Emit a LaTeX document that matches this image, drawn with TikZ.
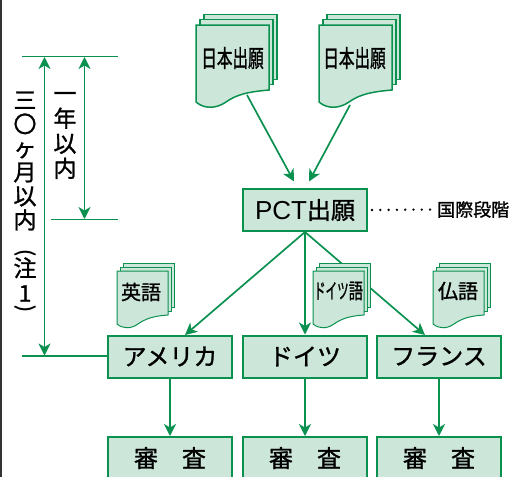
\documentclass[tikz,border=0pt]{standalone}
\usepackage{fontspec}
\setmainfont[FakeBold=1.2,AutoFakeBold=1.2]{Noto Sans CJK JP}
\newfontfamily\latinf{Liberation Sans}
\usetikzlibrary{arrows.meta}
\definecolor{grn}{HTML}{0A9150}
\definecolor{pale}{HTML}{CDE6DA}
\tikzset{
 box/.style={draw=grn,line width=2pt,fill=pale,minimum width=124pt,minimum height=42pt,inner sep=0pt,font=\fontsize{24}{24}\selectfont},
 conn/.style={draw=grn,line width=1.7pt,-{Stealth[length=12pt,width=12pt,inset=3.5pt]}},
 both/.style={draw=grn,line width=1.7pt,{Stealth[length=12pt,width=12pt,inset=3.5pt]}-{Stealth[length=12pt,width=12pt,inset=3.5pt]}},
 rule/.style={draw=grn,line width=1.4pt},
 vtext/.style={align=center,inner sep=0pt},
 vparen/.style={inner sep=0pt,rotate=-90,font=\fontsize{21}{21}\selectfont},
}
\newcommand{\docbig}[1]{%
 \begin{scope}[shift={(#1,0)}]
 \foreach \dx/\dy in {8/-10.5,4/-5.5}{
  \draw[draw=grn,line width=1.4pt,fill=pale] (\dx,25+\dy) rectangle (73+\dx,90+\dy);
 }
 \draw[draw=grn,line width=1.5pt,fill=pale] (0,25) -- (73,25) -- (73,90)
  .. controls (50,92) and (40,95) .. (30,102)
  .. controls (20,109) and (8,109) .. (0,102) -- cycle;
 \end{scope}}
\newcommand{\docsmall}[1]{%
 \begin{scope}[shift={(#1,0)}]
 \foreach \dx/\dy in {6/-7.5,3/-4}{
  \draw[draw=grn,line width=1pt,fill=pale] (\dx,271+\dy) rectangle (51+\dx,315+\dy);
 }
 \draw[draw=grn,line width=1pt,fill=pale] (0,271) -- (51,271) -- (51,315)
  .. controls (36,316) and (28,319) .. (21,324)
  .. controls (14,329) and (6,329) .. (0,324) -- cycle;
 \end{scope}}
\begin{document}
\begin{tikzpicture}[x=1pt,y=-1pt]
\useasboundingbox (0,0) rectangle (523,477);
\clip (0,0) rectangle (523,477);
\draw[black!80,line width=1.5pt] (0.8,0) -- (0.8,477);

\coordinate (d1out) at (247,95);
\coordinate (d2out) at (350,105);
\coordinate (t1a) at (22,56.7);
\coordinate (t1b) at (118,56.7);
\coordinate (t2a) at (51,219.3);
\coordinate (t2b) at (118,219.3);
\coordinate (t3a) at (22,356);
\coordinate (a30t) at (44.5,57);
\coordinate (a30b) at (44.5,355.5);
\coordinate (a1t) at (84.5,57);
\coordinate (a1b) at (84.5,219);
\coordinate (pctIn1) at (294,181.5);
\coordinate (pctIn2) at (309,181.5);
\coordinate (usaIn) at (185,335);
\coordinate (fraIn) at (425,335);

\node[box] (pct) at (305,210) {{\latinf\fontsize{26}{26}\selectfont PCT}\fontsize{24}{24}\selectfont 出願};
\node[box] (usa) at (170,356.5) {アメリカ};
\node[box] (deu) at (305,356.5) {ドイツ};
\node[box] (fra) at (439,356.5) {フランス};
\node[box] (rev1) at (170,458) {審　査};
\node[box] (rev2) at (305,458) {審　査};
\node[box] (rev3) at (439,458) {審　査};

\draw[conn] (d1out) -- (pctIn1);
\draw[conn] (d2out) -- (pctIn2);
\draw[conn] (pct.south) -- (usaIn);
\draw[conn] (pct.south) -- (deu.north);
\draw[conn] (pct.south) -- (fraIn);
\draw[conn] (usa.south) -- (rev1.north);
\draw[conn] (deu.south) -- (rev2.north);
\draw[conn] (fra.south) -- (rev3.north);

\docbig{196}
\docbig{319}
\docsmall{117}
\docsmall{313}
\docsmall{433}
\node[inner sep=0pt] (j1) at (232.5,58) {\fontsize{24}{24}\selectfont\scalebox{0.65}[1]{日本出願}};
\node[inner sep=0pt] (j2) at (354.5,58) {\fontsize{24}{24}\selectfont\scalebox{0.65}[1]{日本出願}};
\node[inner sep=0pt] (en) at (141,292) {\fontsize{20}{20}\selectfont 英語};
\node[inner sep=0pt] (de) at (338.5,291) {\fontsize{21}{21}\selectfont\scalebox{0.55}[1]{ドイツ}\scalebox{0.68}[1]{語}};
\node[inner sep=0pt] (fr) at (458,291) {\fontsize{20}{20}\selectfont 仏語};

\node[inner sep=0pt,anchor=west] (intl) at (437,209.5) {\fontsize{18}{18}\selectfont 国際段階};
\draw[line width=2.6pt,line cap=round,dash pattern=on 0pt off 8.3pt] (pct.east) ++(4,0) -- (intl.west);

\draw[rule] (t1a) -- (t1b);
\draw[rule] (t2a) -- (t2b);
\draw[rule] (t3a) -- (usa.west |- t3a);
\draw[both] (a30t) -- (a30b);
\draw[both] (a1t) -- (a1b);

\node[vtext,font=\fontsize{23}{24}\selectfont] (v30) at (25,161) {三\\〇\\ヶ\\月\\以\\内};
\node[vparen] (po) at (25,252.5) {(};
\node[vtext,font=\fontsize{23}{25}\selectfont] (v30b) at (25,279.5) {注\\1};
\node[vparen] (pc) at (25,308.5) {)};
\node[vtext,font=\fontsize{23}{25}\selectfont] (v1) at (65,135.5) {一\\年\\以\\内};
\end{tikzpicture}
\end{document}
